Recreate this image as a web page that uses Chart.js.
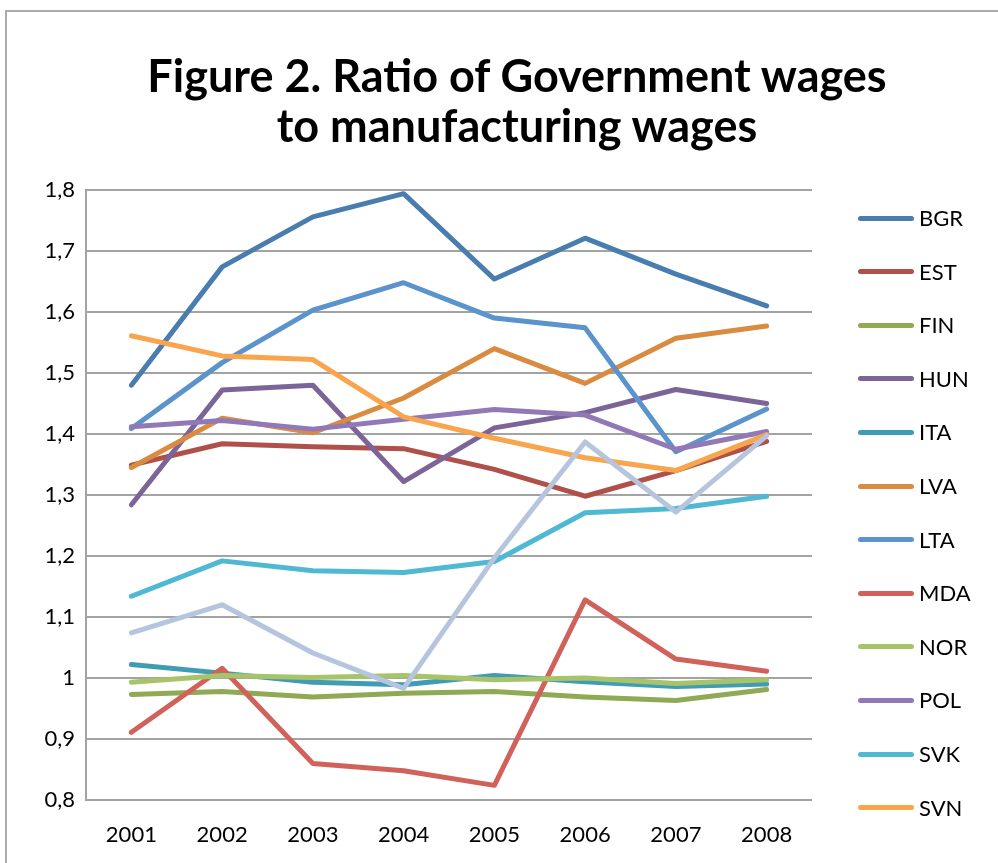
<!DOCTYPE html>
<html>
<head>
<meta charset="utf-8">
<script src="https://cdn.jsdelivr.net/npm/chart.js@4.4.0/dist/chart.umd.min.js"></script>
<style>
  body { margin: 0; background: #fff; }
  #wrap { position: relative; width: 998px; height: 863px; overflow: hidden; }
  #frame { position: absolute; left: 5px; top: 10px; width: 1010px; height: 900px; border: 2px solid #ababab; box-sizing: border-box; }
  #chart { position: absolute; left: 0; top: 0; }
  #title { position: absolute; left: 0; top: 50px; width: 1034px; text-align: center; font-family: Lato, sans-serif; font-weight: bold; font-size: 45px; line-height: 50px; color: #000; }
  #legend { position: absolute; left: 0; top: 0; font-family: Lato, sans-serif; font-size: 22px; color: #000; }
  .item { position: absolute; left: 858px; height: 0; }
  .item .swatch { position: absolute; left: 0; top: -2.5px; width: 56px; height: 5px; border-radius: 3px; }
  .item .name { position: absolute; left: 61px; top: -13px; line-height: 26px; white-space: nowrap; }
</style>
</head>
<body>
<div id="wrap">
  <div id="frame"></div>
  <canvas id="chart" width="998" height="863"></canvas>
  <div id="title">Figure 2. Ratio of Government wages<br>to manufacturing wages</div>
  <div id="legend"></div>
</div>
<script>
// Years on the x axis
const years = ['2001', '2002', '2003', '2004', '2005', '2006', '2007', '2008'];

// Government / manufacturing wage ratio per country
const bgr = [1.480, 1.674, 1.756, 1.794, 1.654, 1.721, 1.662, 1.610];
const est = [1.349, 1.384, 1.379, 1.376, 1.342, 1.298, 1.340, 1.388];
const fin = [0.973, 0.978, 0.969, 0.975, 0.978, 0.969, 0.963, 0.981];
const hun = [1.284, 1.472, 1.480, 1.322, 1.410, 1.435, 1.473, 1.450];
const ita = [1.022, 1.008, 0.993, 0.989, 1.004, 0.994, 0.986, 0.990];
const lva = [1.345, 1.426, 1.402, 1.459, 1.540, 1.483, 1.557, 1.577];
const lta = [1.409, 1.517, 1.603, 1.648, 1.590, 1.574, 1.371, 1.441];
const mda = [0.911, 1.016, 0.860, 0.848, 0.824, 1.128, 1.031, 1.011];
const nor = [0.993, 1.004, 1.001, 1.004, 0.997, 1.000, 0.991, 0.997];
const pol = [1.412, 1.422, 1.408, 1.424, 1.440, 1.431, 1.375, 1.404];
const svk = [1.134, 1.192, 1.176, 1.173, 1.191, 1.271, 1.278, 1.298];
const svn = [1.561, 1.528, 1.522, 1.428, 1.393, 1.361, 1.340, 1.399];
// thirteenth series, plotted but left out of the key
const extra = [1.074, 1.120, 1.041, 0.983, 1.197, 1.387, 1.272, 1.397];

const yTicks = [0.8, 0.9, 1.0, 1.1, 1.2, 1.3, 1.4, 1.5, 1.6, 1.7, 1.8];

const series = [
  { label: 'BGR', data: bgr, color: '#4a7daf', inLegend: true },
  { label: 'EST', data: est, color: '#b0504b', inLegend: true },
  { label: 'FIN', data: fin, color: '#8fa955', inLegend: true },
  { label: 'HUN', data: hun, color: '#7c6498', inLegend: true },
  { label: 'ITA', data: ita, color: '#409cb4', inLegend: true },
  { label: 'LVA', data: lva, color: '#d98b3f', inLegend: true },
  { label: 'LTA', data: lta, color: '#5b93cc', inLegend: true },
  { label: 'MDA', data: mda, color: '#d0625b', inLegend: true },
  { label: 'NOR', data: nor, color: '#a8c46a', inLegend: true },
  { label: 'POL', data: pol, color: '#9179b8', inLegend: true },
  { label: 'SVK', data: svk, color: '#4fb8d2', inLegend: true },
  { label: 'SVN', data: svn, color: '#f9a54e', inLegend: true },
  { label: 'other', data: extra, color: '#b6c5de', inLegend: false }
];

const gridColor = '#a3a3a3';

function fmt(v) {
  return String(Math.round(v * 10) / 10).replace('.', ',');
}

new Chart(document.getElementById('chart'), {
  type: 'line',
  data: {
    labels: years,
    datasets: series.map((s, i) => ({
      label: s.label,
      data: s.data,
      borderColor: s.color,
      backgroundColor: s.color,
      borderWidth: 5,
      borderCapStyle: 'round',
      borderJoinStyle: 'round',
      pointRadius: 0,
      tension: 0,
      fill: false,
      // later series sit on top, as in the original sheet
      order: series.length - i
    }))
  },
  options: {
    responsive: false,
    animation: false,
    layout: { padding: { left: 0, right: 186, top: 190, bottom: 0 } },
    plugins: {
      legend: { display: false },
      tooltip: { enabled: false },
      title: { display: false }
    },
    scales: {
      x: {
        offset: true,
        grid: { display: false, drawTicks: false },
        border: { display: false },
        ticks: { color: '#000', font: { family: 'Lato', size: 22 }, padding: 22, maxRotation: 0 },
        afterFit: (scale) => { scale.height = 63; }
      },
      y: {
        min: 0.8,
        max: 1.8,
        afterBuildTicks: (scale) => { scale.ticks = yTicks.map(v => ({ value: v })); },
        grid: { color: gridColor, lineWidth: 2, drawTicks: false },
        border: { color: gridColor, width: 2 },
        ticks: { color: '#000', font: { family: 'Lato', size: 22 }, padding: 11, callback: (v) => fmt(v) },
        afterFit: (scale) => { scale.width = 86; }
      }
    }
  }
});

// Key on the right, one row per country
const legend = document.getElementById('legend');
series.filter(s => s.inLegend).forEach((s, i) => {
  const row = document.createElement('div');
  row.className = 'item';
  row.style.top = (218 + i * 53.6) + 'px';
  row.innerHTML = '<span class="swatch" style="background:' + s.color + '"></span><span class="name">' + s.label + '</span>';
  legend.appendChild(row);
});
</script>
</body>
</html>
